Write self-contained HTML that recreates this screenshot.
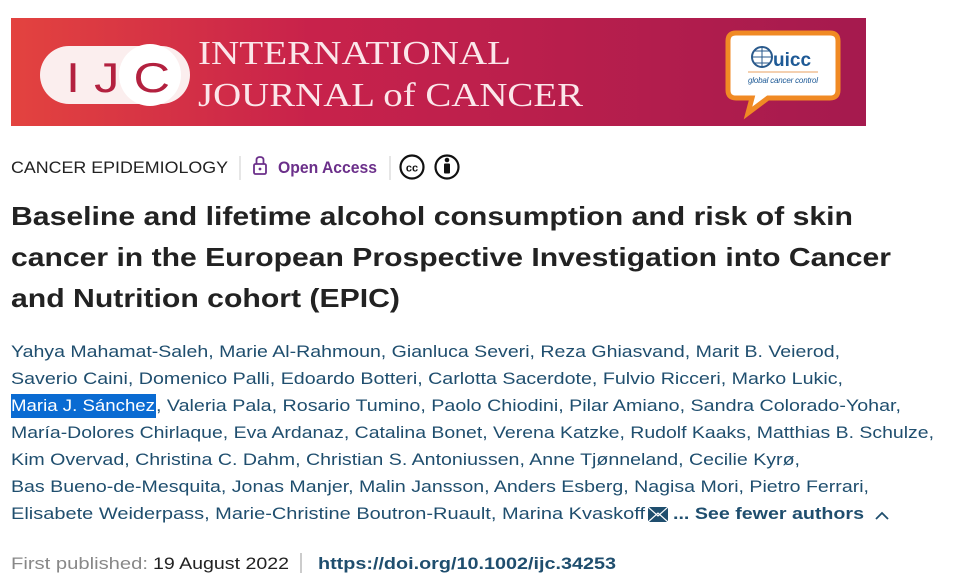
<!DOCTYPE html>
<html><head><meta charset="utf-8"><style>
html,body{margin:0;padding:0;background:#fff;width:962px;height:579px;overflow:hidden}
svg{display:block}
</style></head><body>
<svg width="962" height="579" viewBox="0 0 962 579" xmlns="http://www.w3.org/2000/svg" font-family="Liberation Sans, sans-serif">
<defs>
<linearGradient id="g" x1="0" x2="1" y1="0" y2="0">
<stop offset="0" stop-color="#e3433f"/><stop offset="0.35" stop-color="#c8224b"/><stop offset="1" stop-color="#a51a4e"/>
</linearGradient>
</defs>
<rect x="11" y="18" width="855" height="108" fill="url(#g)"/>
<!-- IJC pill -->
<rect x="40" y="46" width="150" height="58" rx="29" fill="#fbeeee"/>
<circle cx="150" cy="75" r="31" fill="#fff"/>
<text x="66" y="92" font-size="42" fill="#b3213f" textLength="104" lengthAdjust="spacingAndGlyphs">I J C</text>
<text x="198" y="64" font-family="Liberation Serif, serif" font-size="34" fill="#fbe6ea" textLength="313" lengthAdjust="spacingAndGlyphs">INTERNATIONAL</text>
<text x="198" y="106" font-family="Liberation Serif, serif" font-size="34" fill="#fbe6ea" textLength="385" lengthAdjust="spacingAndGlyphs">JOURNAL of CANCER</text>
<!-- uicc bubble -->
<path d="M736 33 H830 Q838 33 838 41 V90 Q838 98 830 98 H768 L748 113 L752 98 H736 Q728 98 728 90 V41 Q728 33 736 33Z" fill="#fff" stroke="#f08a24" stroke-width="5"/>
<circle cx="762" cy="57" r="10" fill="none" stroke="#2a5a8c" stroke-width="2"/>
<path d="M752 57 H772 M762 47 V67 M754 51 H770 M754 63 H770" stroke="#2a5a8c" stroke-width="1"/>
<text x="773" y="66" font-size="19" fill="#1e5a96" font-weight="bold">uicc</text>
<line x1="748" y1="72" x2="818" y2="72" stroke="#e9a060" stroke-width="1"/>
<text x="748" y="83" font-size="8" fill="#1e5a96" font-style="italic" textLength="70">global cancer control</text>
<!-- category line -->
<text x="11" y="173" font-size="17" fill="#222" textLength="217" lengthAdjust="spacingAndGlyphs">CANCER EPIDEMIOLOGY</text>
<line x1="240" y1="156" x2="240" y2="180" stroke="#ccc"/>
<rect x="254" y="164" width="12" height="10" rx="1.5" fill="none" stroke="#6b2f8a" stroke-width="1.8"/>
<path d="M256.5 164 V160 Q256.5 157 260 157 Q263.5 157 263.5 160 V164" fill="none" stroke="#6b2f8a" stroke-width="1.8"/>
<circle cx="260" cy="169" r="1.4" fill="#6b2f8a"/>
<text x="278" y="173" font-size="17" fill="#6b2f8a" font-weight="bold" textLength="99" lengthAdjust="spacingAndGlyphs">Open Access</text>
<line x1="390" y1="156" x2="390" y2="180" stroke="#ccc"/>
<circle cx="412" cy="167" r="11.5" fill="none" stroke="#111" stroke-width="2.2"/>
<text x="412" y="171.5" font-size="11" font-weight="bold" text-anchor="middle" fill="#111">cc</text>
<circle cx="447" cy="167" r="11.5" fill="none" stroke="#111" stroke-width="2.2"/>
<circle cx="447" cy="160" r="2.3" fill="#111"/>
<rect x="444" y="163.5" width="6" height="10" rx="1" fill="#111"/>
<!-- title -->
<g font-size="26" font-weight="bold" fill="#222">
<text x="11" y="225" textLength="842" lengthAdjust="spacingAndGlyphs">Baseline and lifetime alcohol consumption and risk of skin</text>
<text x="11" y="266" textLength="880" lengthAdjust="spacingAndGlyphs">cancer in the European Prospective Investigation into Cancer</text>
<text x="11" y="307" textLength="389" lengthAdjust="spacingAndGlyphs">and Nutrition cohort (EPIC)</text>
</g>
<!-- authors -->
<rect x="11" y="394" width="145" height="24" fill="#0a6bd2"/>
<g font-size="17" fill="#1f4e6e">
<text x="11" y="357" textLength="829" lengthAdjust="spacingAndGlyphs">Yahya Mahamat-Saleh, Marie Al-Rahmoun, Gianluca Severi, Reza Ghiasvand, Marit B. Veierod,</text>
<text x="11" y="384" textLength="832" lengthAdjust="spacingAndGlyphs">Saverio Caini, Domenico Palli, Edoardo Botteri, Carlotta Sacerdote, Fulvio Ricceri, Marko Lukic,</text>
<text x="11" y="411" fill="#fff" textLength="144" lengthAdjust="spacingAndGlyphs">Maria J. Sánchez</text>
<text x="156" y="411" textLength="745" lengthAdjust="spacingAndGlyphs">, Valeria Pala, Rosario Tumino, Paolo Chiodini, Pilar Amiano, Sandra Colorado-Yohar,</text>
<text x="11" y="438" textLength="923" lengthAdjust="spacingAndGlyphs">María-Dolores Chirlaque, Eva Ardanaz, Catalina Bonet, Verena Katzke, Rudolf Kaaks, Matthias B. Schulze,</text>
<text x="11" y="465" textLength="789" lengthAdjust="spacingAndGlyphs">Kim Overvad, Christina C. Dahm, Christian S. Antoniussen, Anne Tjønneland, Cecilie Kyrø,</text>
<text x="11" y="492" textLength="858" lengthAdjust="spacingAndGlyphs">Bas Bueno-de-Mesquita, Jonas Manjer, Malin Jansson, Anders Esberg, Nagisa Mori, Pietro Ferrari,</text>
<text x="11" y="519" textLength="634" lengthAdjust="spacingAndGlyphs">Elisabete Weiderpass, Marie-Christine Boutron-Ruault, Marina Kvaskoff</text>
</g>
<rect x="648" y="507" width="20" height="15" fill="#1f4e6e"/>
<path d="M648 507 L658 516 L668 507 M648 522 L658 513 L668 522" stroke="#fff" stroke-width="1.2" fill="none"/>
<text x="673" y="519" font-size="17" font-weight="bold" fill="#1f4e6e" textLength="191" lengthAdjust="spacingAndGlyphs">... See fewer authors</text>
<path d="M876 519 L882 513 L888 519" stroke="#1f4e6e" stroke-width="1.8" fill="none"/>
<!-- published -->
<text x="11" y="569" font-size="17" fill="#888" textLength="137" lengthAdjust="spacingAndGlyphs">First published:</text>
<text x="153" y="569" font-size="17" fill="#222" textLength="136" lengthAdjust="spacingAndGlyphs">19 August 2022</text>
<line x1="301" y1="553" x2="301" y2="573" stroke="#999"/>
<text x="318" y="569" font-size="17" font-weight="bold" fill="#1f4e6e" textLength="298" lengthAdjust="spacingAndGlyphs">https://doi.org/10.1002/ijc.34253</text>
</svg>
</body></html>
